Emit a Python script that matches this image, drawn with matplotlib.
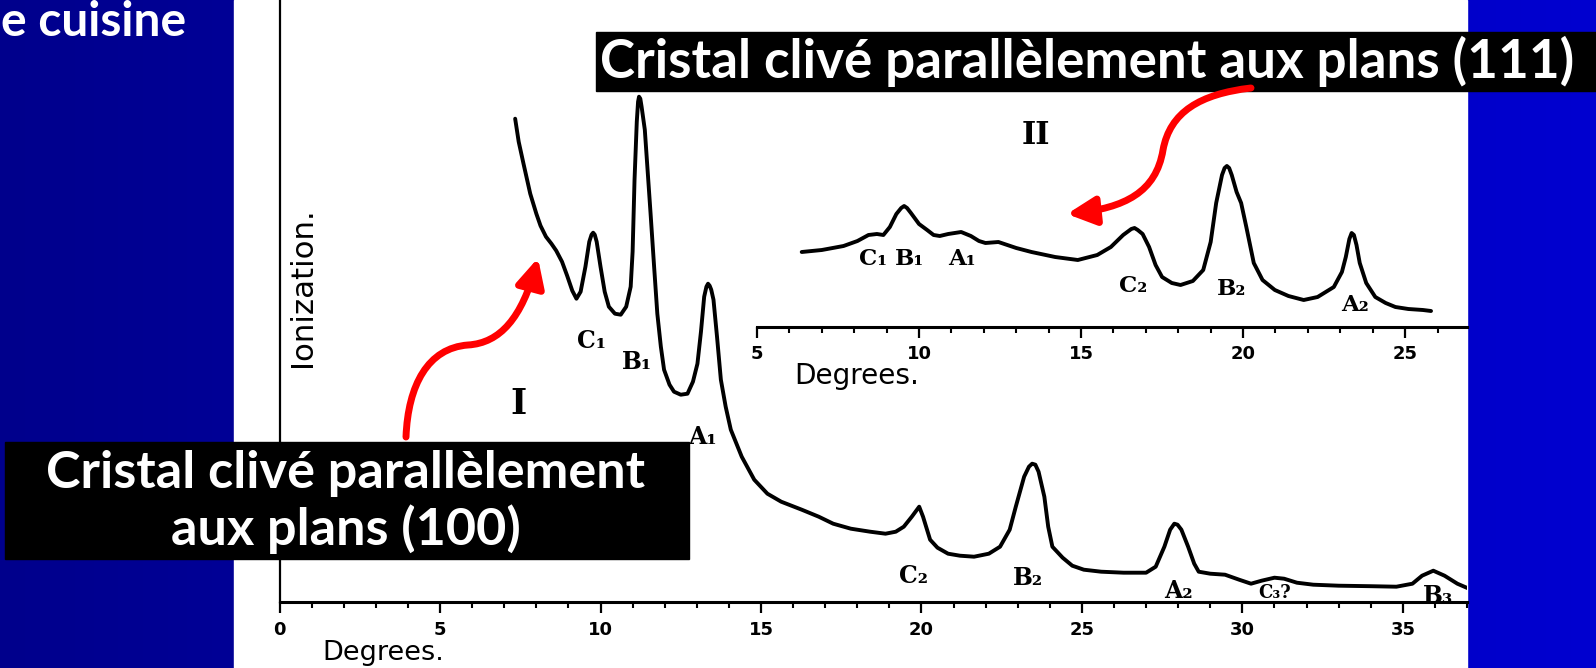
import numpy as np
import matplotlib
matplotlib.use("Agg")
import matplotlib.pyplot as plt
from matplotlib.patches import Rectangle, FancyArrowPatch
from matplotlib.path import Path
from matplotlib.transforms import Affine2D
from matplotlib.ticker import MultipleLocator
from matplotlib.colors import LinearSegmentedColormap

# ---------------- data ----------------
# Curve I : crystal cleaved parallel to (100) planes
deg_I = [7.34, 7.45, 7.6, 7.81, 8.0, 8.13, 8.3, 8.47, 8.62, 8.8, 8.96, 9.12, 9.25, 9.38, 9.53,
         9.65, 9.72, 9.77, 9.82, 9.88, 10.0, 10.13, 10.26, 10.45, 10.63, 10.8, 10.94, 11.0, 11.06,
         11.13, 11.17, 11.2, 11.24, 11.28, 11.38, 11.47, 11.56, 11.67, 11.77, 11.88, 11.98, 12.15,
         12.29, 12.5, 12.71, 12.88, 13.02, 13.13, 13.23, 13.3, 13.35, 13.4, 13.45, 13.52, 13.63,
         13.75, 13.9, 14.06, 14.4, 14.79, 15.2, 15.63, 16.27, 16.8, 17.25, 17.8, 18.4, 18.88, 19.2,
         19.45, 19.7, 19.93, 20.05, 20.27, 20.5, 20.83, 21.2, 21.64, 22.1, 22.45, 22.75, 22.94,
         23.2, 23.35, 23.45, 23.55, 23.65, 23.83, 23.95, 24.08, 24.4, 24.7, 25.06, 25.6, 26.3,
         27.0, 27.3, 27.57, 27.75, 27.88, 27.98, 28.1, 28.31, 28.5, 28.64, 29.0, 29.46, 29.9,
         30.27, 30.6, 31.0, 31.3, 31.7, 32.21, 33.0, 34.0, 34.8, 35.3, 35.6, 35.95, 36.3, 36.7,
         37.06]
ion_I = [483, 460, 438, 408, 388, 376, 365, 358, 351, 340, 326, 311, 303, 310, 335,
         360, 367, 369, 367, 360, 335, 310, 295, 288, 287, 295, 315, 350, 422,
         480, 500, 505, 503, 495, 472, 430, 388, 335, 288, 255, 232, 217,
         210, 207, 208, 220, 238, 270, 305, 315, 318, 316, 312, 302, 265,
         222, 195, 172, 145, 122, 108, 100, 92, 85, 78, 73, 70, 68, 70,
         75, 85, 95, 85, 62, 54, 48, 46, 45, 48, 55, 72, 95,
         125, 135, 138, 137, 130, 105, 75, 55, 44, 36, 32, 30, 29,
         29, 35, 55, 72, 78, 77, 72, 55, 38, 30, 28, 27, 22,
         18, 21, 24, 23, 19, 17, 16, 15.5, 15, 18, 26, 31, 26, 18,
         13]

# Curve II : crystal cleaved parallel to (111) planes
deg_II = [6.38, 7.0, 7.67, 8.1, 8.44, 8.7, 8.9, 9.1, 9.3, 9.45, 9.54, 9.63, 9.75, 10.0, 10.25,
          10.45, 10.64, 10.9, 11.3, 11.6, 11.85, 12.05, 12.45, 13.0, 13.47, 14.2, 14.9, 15.5,
          15.92, 16.3, 16.55, 16.65, 16.75, 16.9, 17.1, 17.3, 17.5, 17.8, 18.07, 18.45, 18.77,
          19.0, 19.17, 19.35, 19.43, 19.5, 19.57, 19.65, 19.8, 19.94, 20.1, 20.33, 20.6, 20.98,
          21.4, 21.87, 22.3, 22.8, 23.05, 23.17, 23.28, 23.35, 23.42, 23.5, 23.6, 23.8, 24.08,
          24.4, 24.7, 25.1, 25.55, 25.8]
ion_II = [75, 77, 81, 86, 92, 93, 92, 100, 113, 119, 121, 119, 114, 103, 97,
          92, 91, 93, 95, 91, 86, 84, 85, 79, 75, 70, 67, 72,
          80, 92, 98, 99, 97, 93, 80, 62, 50, 44, 42, 46, 57,
          85, 124, 152, 159, 161, 159, 152, 135, 124, 100, 64, 47, 37,
          31, 27, 30, 40, 55, 70, 88, 94, 92, 82, 64, 44, 30,
          24, 20, 18, 17, 16]

peaks_I = ["C\u2081", "B\u2081", "A\u2081", "C\u2082", "B\u2082", "A\u2082", "C\u2083?", "B\u2083"]
peaks_II = ["C\u2081", "B\u2081", "A\u2081", "C\u2082", "B\u2082", "A\u2082"]

box_111 = "Cristal clivé parallèlement aux plans (111)"
box_100 = ["Cristal clivé parallèlement", "aux plans (100)"]
slide_title = "e cuisine"

# ---------------- figure ----------------
W, H = 1596, 668
fig = plt.figure(figsize=(W / 100, H / 100), dpi=100)
PX = Affine2D().scale(1 / W, -1 / H).translate(0, 1) + fig.transFigure
renderer = fig.canvas.get_renderer()

# background (slide gradient + white scan)
bg = fig.add_axes([0, 0, 1, 1], zorder=-10)
bg.set_axis_off()
cmap = LinearSegmentedColormap.from_list("slide", ["#00008C", "#0000D0"])
bg.imshow(np.linspace(0, 1, 256).reshape(1, -1), extent=[0, W, H, 0], aspect="auto", cmap=cmap)
bg.add_patch(Rectangle((234, 0), 1467 - 234, H, color="white"))
bg.set_xlim(0, W)
bg.set_ylim(H, 0)

tick_font = dict(family="DejaVu Sans")
lab_font = dict(family="DejaVu Serif", fontweight="bold", color="black")
LW = 2.8

# main axes (curve I)
ax1 = fig.add_axes([279.6 / W, 1 - 601.7 / H, (1467 - 279.6) / W, 601.7 / H], zorder=0)
ax1.set_facecolor("none")
ax1.plot(deg_I, ion_I, color="black", lw=LW, solid_joinstyle="round", solid_capstyle="round")
ax1.set_xlim(0, 37.0)
ax1.set_ylim(0, 601.7)
for s in ("top", "right"):
    ax1.spines[s].set_visible(False)
ax1.spines["bottom"].set_linewidth(2.2)
ax1.spines["left"].set_linewidth(1.6)
ax1.set_yticks([])
ax1.xaxis.set_major_locator(MultipleLocator(5))
ax1.xaxis.set_minor_locator(MultipleLocator(1))
ax1.tick_params(axis="x", which="major", length=8, width=1.6, pad=6, labelsize=13,
                labelfontfamily="DejaVu Sans")
ax1.tick_params(axis="x", which="minor", length=4, width=1.5)
for lbl in ax1.get_xticklabels():
    lbl.set_fontweight("bold")

pos_I = [(9.73, 261), (11.13, 240), (13.19, 165), (19.76, 26), (23.31, 24),
         (28.02, 11), (31.01, 9), (36.09, 6)]
for lab, (x, y) in zip(peaks_I, pos_I):
    ax1.text(x, y, lab, ha="center", va="center", fontsize=17 if "?" not in lab else 13, **lab_font)
ax1.text(7.43, 198, "I", ha="center", va="center", fontsize=25, **lab_font)

# inset axes (curve II)
ax2 = fig.add_axes([757 / W, 1 - 327 / H, (1467 - 757) / W, 227 / H], zorder=1)
ax2.set_facecolor("none")
ax2.plot(deg_II, ion_II, color="black", lw=LW, solid_joinstyle="round", solid_capstyle="round")
ax2.set_xlim(5, 26.91)
ax2.set_ylim(0, 227)
for s in ("top", "right", "left"):
    ax2.spines[s].set_visible(False)
ax2.spines["bottom"].set_linewidth(2.2)
ax2.set_yticks([])
ax2.xaxis.set_major_locator(MultipleLocator(5))
ax2.xaxis.set_minor_locator(MultipleLocator(1))
ax2.tick_params(axis="x", which="major", length=8, width=1.6, pad=5, labelsize=13,
                labelfontfamily="DejaVu Sans")
ax2.tick_params(axis="x", which="minor", length=4, width=1.5)
for lbl in ax2.get_xticklabels():
    lbl.set_fontweight("bold")

pos_II = [(8.58, 68), (9.72, 68), (11.33, 68), (16.6, 41), (19.66, 38), (23.46, 22)]
for lab, (x, y) in zip(peaks_II, pos_II):
    ax2.text(x, y, lab, ha="center", va="center", fontsize=16.5, **lab_font)
ax2.text(13.61, 191, "II", ha="center", va="center", fontsize=22, **lab_font)


def fit(t, target, dim="w"):
    bb = t.get_window_extent(renderer)
    cur = bb.width if dim == "w" else bb.height
    t.set_fontsize(t.get_fontsize() * target / cur)
    return t


# axis titles of the scan
fit(fig.text(303, 287, "Ionization.", transform=PX, rotation=90, ha="center", va="center",
             fontsize=18, color="black", **tick_font), 160, "h")
fit(fig.text(322, 666, "Degrees.", transform=PX, ha="left", va="bottom", fontsize=18,
             color="black", **tick_font), 122)
fit(fig.text(794, 362, "Degrees.", transform=PX, ha="left", va="top", fontsize=18,
             color="black", **tick_font), 126)

# slide title fragment
fit(fig.text(1, 36, slide_title, transform=PX, ha="left", va="baseline", fontsize=24,
             color="white", family="Lato", fontweight="bold"), 186)

# callout boxes
fig.add_artist(Rectangle((596, 32), 1000, 59, transform=PX, color="black", zorder=5))
fit(fig.text(600, 78, box_111, transform=PX, ha="left", va="baseline", fontsize=30,
             color="white", family="Lato", fontweight="bold", zorder=6), 974)

fig.add_artist(Rectangle((5, 442), 684, 117, transform=PX, color="black", zorder=5))
t1 = fit(fig.text(346, 488, box_100[0], transform=PX, ha="center", va="baseline", fontsize=30,
                  color="white", family="Lato", fontweight="bold", zorder=6), 599)
fig.text(346, 545, box_100[1], transform=PX, ha="center", va="baseline",
         fontsize=t1.get_fontsize(), color="white", family="Lato", fontweight="bold", zorder=6)

# red curved arrows
arrow_style = "-|>,head_length=17,head_width=8.5"
p1 = Path([(406, 437), (408, 385), (428, 348), (468, 345), (500, 343), (522, 318), (538, 258)],
          [Path.MOVETO, Path.CURVE4, Path.CURVE4, Path.CURVE4, Path.CURVE4, Path.CURVE4, Path.CURVE4])
p2 = Path([(1251, 88), (1200, 94), (1170, 112), (1163, 150), (1156, 192), (1125, 208), (1067, 214)],
          [Path.MOVETO, Path.CURVE4, Path.CURVE4, Path.CURVE4, Path.CURVE4, Path.CURVE4, Path.CURVE4])
for p in (p1, p2):
    fig.add_artist(FancyArrowPatch(path=p, arrowstyle=arrow_style, mutation_scale=1, lw=5,
                                   color="red", transform=PX, zorder=7))

fig.savefig("out.png", dpi=100)
